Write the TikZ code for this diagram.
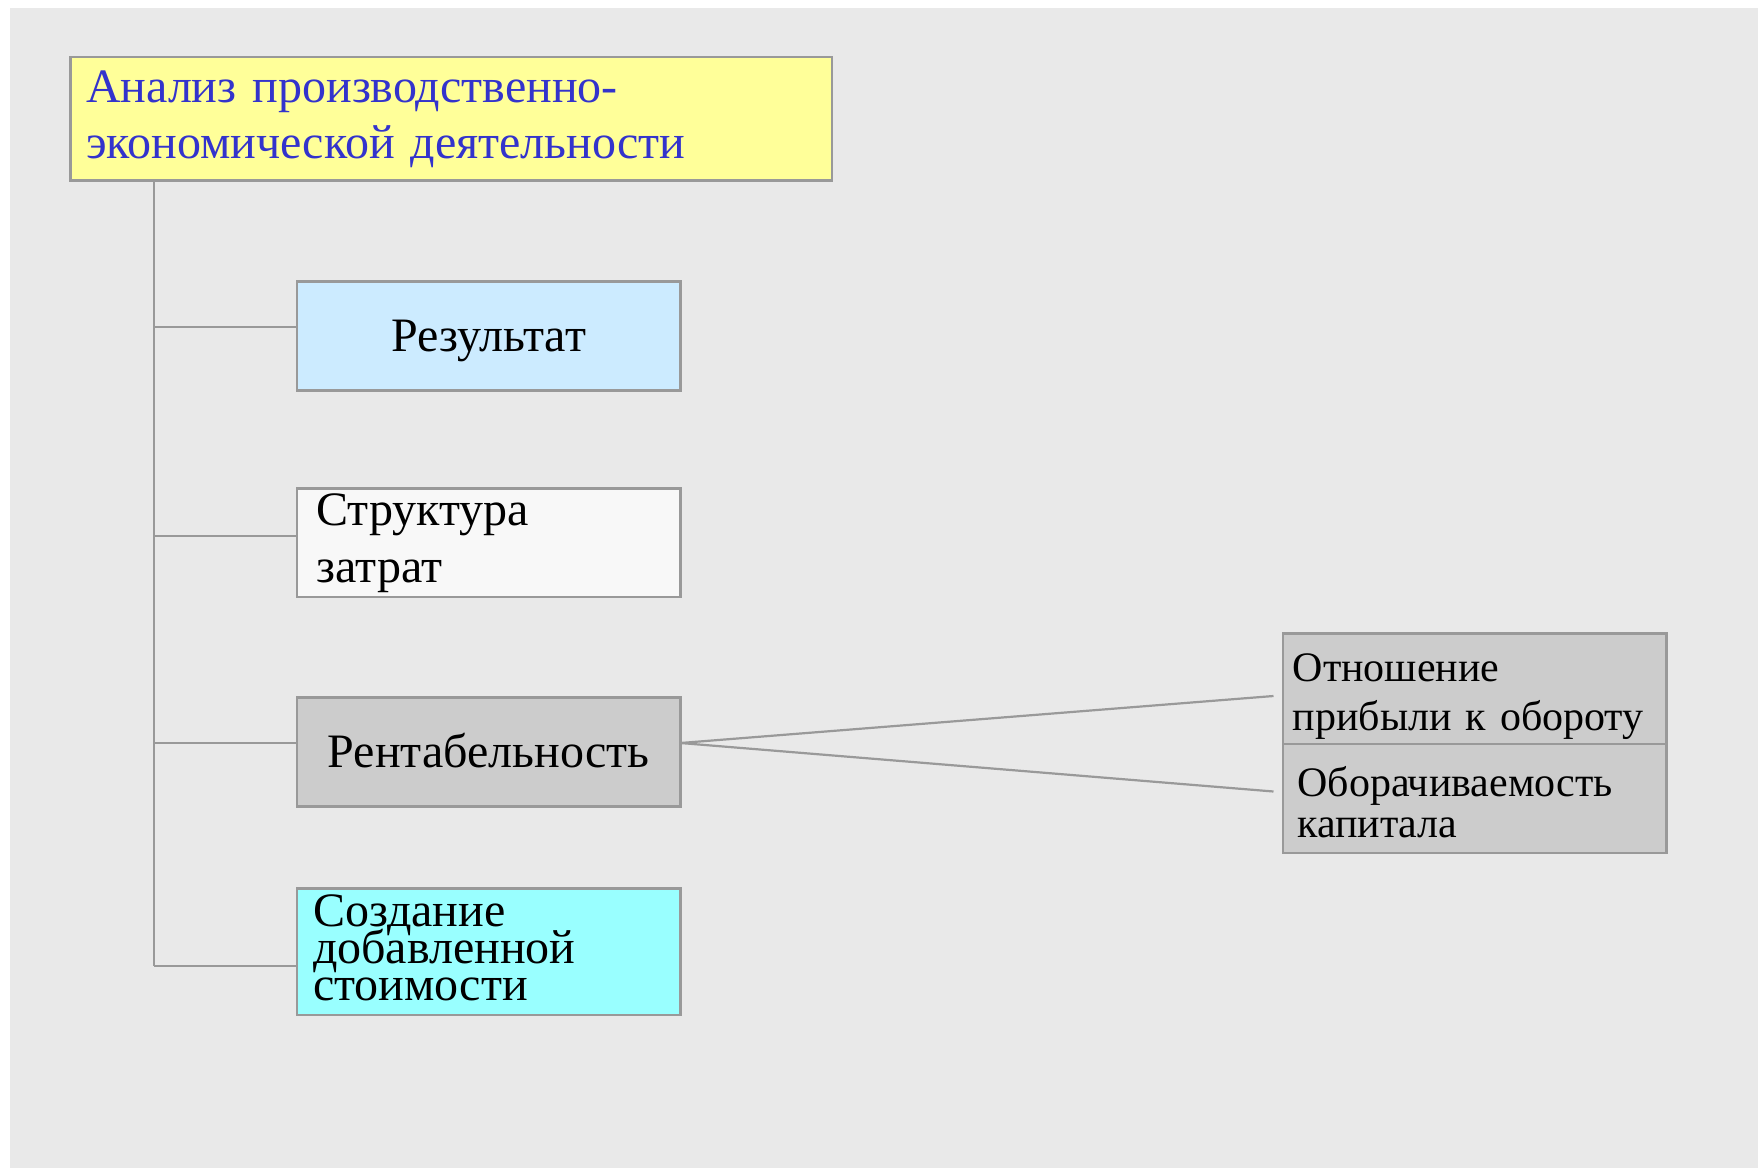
\documentclass[tikz,border=0pt]{standalone}
\usepackage{fontspec}
\setmainfont{Liberation Serif}
\definecolor{bg}{HTML}{E9E9E9}
\definecolor{bord}{HTML}{999999}
\definecolor{ylw}{HTML}{FFFF99}
\definecolor{ttl}{HTML}{3333CC}
\definecolor{lblue}{HTML}{CCEBFF}
\definecolor{wht}{HTML}{F8F8F8}
\definecolor{gry}{HTML}{CCCCCC}
\definecolor{cyn}{HTML}{99FFFF}
\newcommand{\sTop}[1]{\rule{0pt}{#1}}
\newcommand{\sBot}[1]{\rule[-#1]{0pt}{0pt}}
\begin{document}
\begin{tikzpicture}[x=0.5pt,y=-0.5pt,
  box/.style={draw=bord, line width=1.25pt, rectangle, inner ysep=0pt, outer sep=0pt,
    anchor=north west, execute at begin node={\lineskiplimit=-100pt}},
  conn/.style={draw=bord, line width=1.1pt}]
\useasboundingbox (0,0) rectangle (1758,1168);
\fill[white] (0,0) rectangle (1758,1168);
\fill[bg] (10,8) rectangle (1758,1168);

\node[box, fill=ylw, text=ttl, inner xsep=7.7pt, text width=365.3pt, align=left,
  font=\fontsize{24}{28.35}\selectfont] (title) at (70.6,57)
  {\sTop{22.5pt}Анализ производственно-\\экономической деятельности\sBot{11pt}};

\node[box, fill=lblue, minimum width=191.75pt, inner xsep=0pt,
  font=\fontsize{24}{28}\selectfont] (res) at (297,281.5)
  {\sTop{35.2pt}Результат\sBot{19.2pt}};

\node[box, fill=wht, inner xsep=9.8pt, text width=172.15pt, align=left,
  font=\fontsize{24}{28.85}\selectfont] (str) at (297,488.5)
  {\sTop{18.35pt}Структура\\затрат\sBot{7pt}};

\node[box, fill=gry, minimum width=191.75pt, inner xsep=0pt,
  font=\fontsize{24}{28}\selectfont] (rent) at (297,697.3)
  {\sTop{35pt}Рентабельность\sBot{19.7pt}};

\node[box, fill=cyn, inner xsep=8pt, text width=175.75pt, align=left,
  font=\fontsize{24}{18.5}\selectfont] (add) at (297,888.3)
  {\sTop{19.2pt}Создание\\добавленной\\стоимости\sBot{7.15pt}};

\node[box, fill=gry, inner xsep=4.85pt, text width=182.05pt, align=left,
  font=\fontsize{21}{24.5}\selectfont] (rel) at (1283,633.3)
  {\sTop{24.2pt}Отношение\\прибыли к обороту\sBot{6.65pt}};

\node[box, fill=gry, inner xsep=7.15pt, text width=177.45pt, align=left,
  font=\fontsize{21}{20.5}\selectfont] (turn) at (1283,744)
  {\sTop{26pt}Оборачиваемость\\капитала\sBot{8pt}};

\coordinate (trunk) at (153.6,0);
\coordinate (e1) at (1273.5,696);
\coordinate (e2) at (1273.5,791.5);

\draw[conn] (title.south -| trunk) -- (trunk |- 0,966);
\draw[conn] (trunk |- 0,327) -- (res.west |- 0,327);
\draw[conn] (trunk |- 0,536) -- (str.west |- 0,536);
\draw[conn] (trunk |- 0,743) -- (rent.west |- 0,743);
\draw[conn] (trunk |- 0,966) -- (add.west |- 0,966);
\draw[conn] (rent.east |- 0,743) -- (e1);
\draw[conn] (rent.east |- 0,743) -- (e2);
\end{tikzpicture}
\end{document}
